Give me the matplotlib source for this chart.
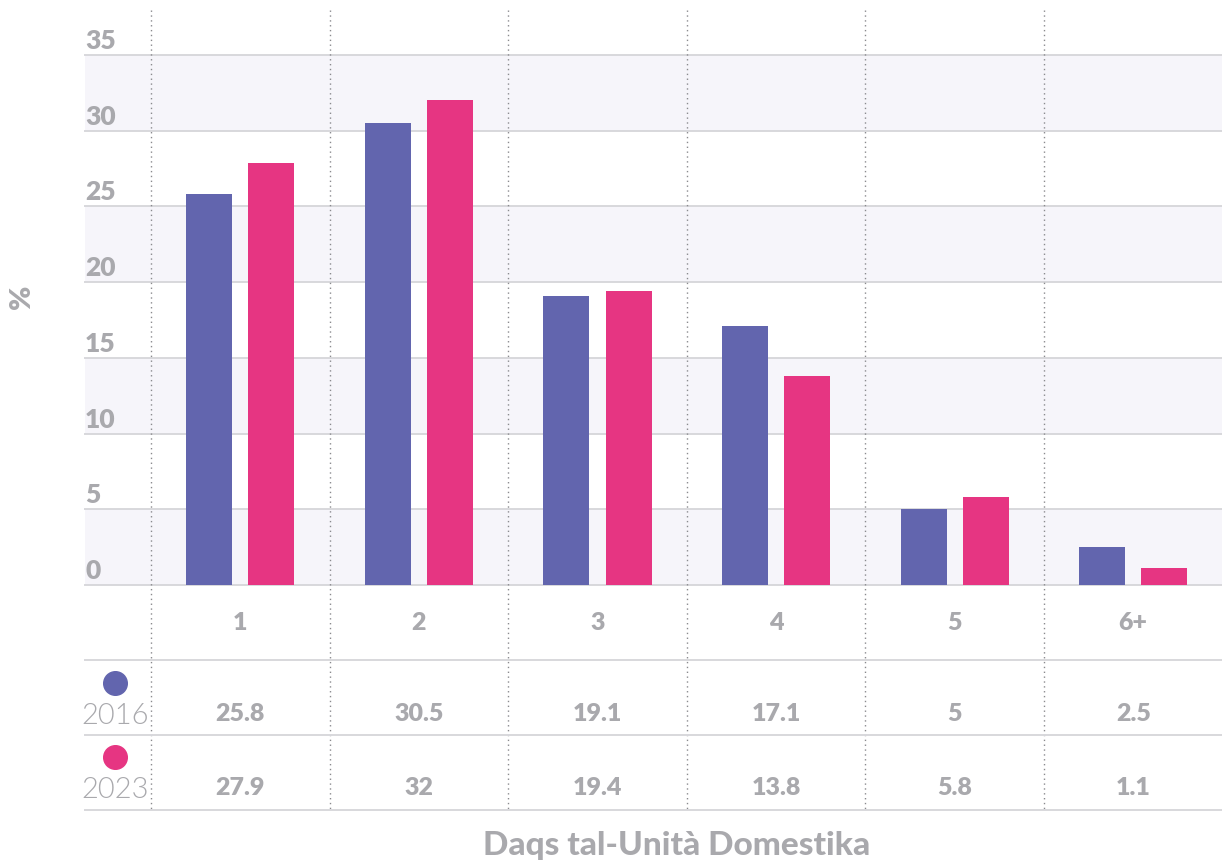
import matplotlib
matplotlib.use("Agg")
import matplotlib.pyplot as plt
import matplotlib.transforms as mtransforms
import numpy as np

plt.rcParams['font.family'] = ['Lato', 'DejaVu Sans']

categories = ["1", "2", "3", "4", "5", "6+"]
series_names = ["2016", "2023"]
values_2016 = [25.8, 30.5, 19.1, 17.1, 5, 2.5]
values_2023 = [27.9, 32, 19.4, 13.8, 5.8, 1.1]
value_labels_2016 = ["25.8", "30.5", "19.1", "17.1", "5", "2.5"]
value_labels_2023 = ["27.9", "32", "19.4", "13.8", "5.8", "1.1"]
yticks = [0, 5, 10, 15, 20, 25, 30, 35]
xlabel = "Daqs tal-Unità Domestika"
ylabel = "%"

BLUE = "#6265ae"
PINK = "#e63582"
GRAY = "#a9a9ad"
GRID = "#d8d8dc"
BAND = "#f6f5fa"
DOT = "#8a8a8e"

W, H = 1222, 861
fig = plt.figure(figsize=(W / 100, H / 100), dpi=100)
fig.patch.set_facecolor("white")

left_px, right_px = 85, 1222
top_px, zero_px, bottom_px = 55, 585, 810
xlim = (-0.87, 5.497)

ax = fig.add_axes([left_px / W, 1 - zero_px / H, (right_px - left_px) / W, (zero_px - top_px) / H])
ax.set_xlim(*xlim)
ax.set_ylim(0, 35)
for s in ax.spines.values():
    s.set_visible(False)
ax.set_xticks([])
ax.set_yticks([])

# alternating bands
for lo in range(0, 35, 10):
    ax.axhspan(lo, lo + 5, color=BAND, zorder=0, lw=0)
ytrans = mtransforms.offset_copy(
    mtransforms.blended_transform_factory(ax.transAxes, ax.transData), fig=fig, x=0, y=2, units="dots")
for t in yticks:
    ax.axhline(t, color=GRID, lw=1.4, zorder=1, clip_on=False)
    ax.text(0.0, t, str(t), transform=ytrans,
            ha="left", va="bottom", fontsize=19, fontweight=800, color=GRAY)

x = np.arange(len(categories))
bw = 0.258
off = 0.174
ax.bar(x - off, values_2016, width=bw, color=BLUE, zorder=3)
ax.bar(x + off, values_2023, width=bw, color=PINK, zorder=3)

# table axes
tab = fig.add_axes([left_px / W, 1 - bottom_px / H, (right_px - left_px) / W, (bottom_px - zero_px) / H])
tab.set_xlim(*xlim)
tab.set_ylim(0, 3)
tab.axis("off")
for yl in [0, 1, 2]:
    tab.axhline(yl, color=GRID, lw=1.4, clip_on=False)
for i, c in enumerate(categories):
    tab.text(i, 2.5, c, ha="center", va="center", fontsize=18, fontweight=800, color=GRAY)
    tab.text(i, 1.28, value_labels_2016[i], ha="center", va="center", fontsize=18, fontweight=800, color=GRAY)
    tab.text(i, 0.29, value_labels_2023[i], ha="center", va="center", fontsize=18, fontweight=800, color=GRAY)

leg_x = -0.70
tab.plot([leg_x], [1.69], "o", ms=17, color=BLUE, clip_on=False)
tab.plot([leg_x], [0.71], "o", ms=17, color=PINK, clip_on=False)
tab.text(leg_x, 1.25, series_names[0], ha="center", va="center", fontsize=21, fontweight=300, color=GRAY)
tab.text(leg_x, 0.27, series_names[1], ha="center", va="center", fontsize=21, fontweight=300, color=GRAY)

# dotted vertical separators spanning chart and table
trans = mtransforms.blended_transform_factory(ax.transData, fig.transFigure)
for i in range(len(categories)):
    ax.plot([i - 0.5, i - 0.5], [1 - 10 / H, 1 - bottom_px / H], transform=trans,
            color=DOT, lw=1.0, ls=(0, (1, 2.5)), clip_on=False, zorder=2)

fig.text(22 / W, 1 - 297 / H, ylabel, rotation=90, ha="center", va="center",
         fontsize=21, fontweight=800, color=GRAY)
fig.text(677 / W, 1 - 845 / H, xlabel, ha="center", va="center",
         fontsize=24, fontweight=900, color=GRAY)

fig.savefig("out.png", dpi=100, facecolor="white")
